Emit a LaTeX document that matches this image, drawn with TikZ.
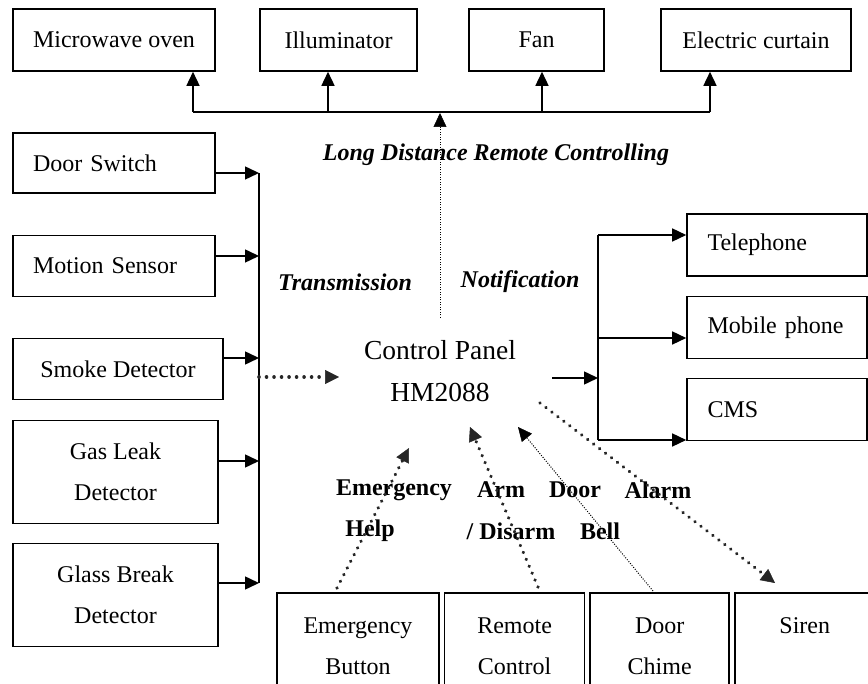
\documentclass[tikz,border=0pt]{standalone}
\usepackage{fontspec}
\setmainfont{Liberation Serif}
\usetikzlibrary{positioning, arrows.meta}
\tikzstyle{unit} = [rectangle, 
draw=black, 
line width=1.6pt, 
font=\fontsize{24}{41}\selectfont, 
align=center]
\tikzstyle{device} = [unit, minimum height=62pt]
\tikzstyle{sensor} = [unit, minimum width=202pt]
\tikzstyle{leftbox} = [text width=162pt, inner xsep=20pt, align=left]
\tikzstyle{output} = [unit, minimum height=62pt, text width=139pt, inner xsep=20.5pt, align=left]
\tikzstyle{trigger} = [unit, inner xsep=4pt, inner ysep=25pt, text height=16pt, text depth=52pt]
\tikzstyle{tag} = [font=\fontsize{24}{24}\selectfont\bfseries\itshape]
\tikzstyle{note} = [font=\fontsize{24}{24}\selectfont\bfseries]
\tikzstyle{arrow} = [line width=1.5pt, -{Triangle[length=14pt,width=13pt]}]
\tikzstyle{dotarrow} = [draw=black!85, line width=3.6pt, line cap=round, dash pattern=on 0.01pt off 7.5pt, 
-{Triangle[length=14pt,width=14pt,line width=0.5pt]}]
\tikzstyle{thinarrow} = [line width=1pt, dash pattern=on 1pt off 1.5pt, 
-{Triangle[length=14pt,width=13pt,line width=0.5pt]}]
\begin{document}
\begin{tikzpicture}[x=1pt, y=-1pt]
        \useasboundingbox (0,0) rectangle (868,684);
        \clip (0,0) rectangle (868,684);
        % appliances
        \node (micro) [device, minimum width=202pt] at (114,40) {Microwave oven};
        \node (illum) [device, minimum width=157pt] at (338.5,40) {Illuminator};
        \node (fan) [device, minimum width=135pt] at (536.5,40) {Fan};
        \node (curtain) [device, minimum width=190pt] at (756,40) {Electric curtain};
        % sensors
        \node (door) [sensor, leftbox, minimum height=60pt] at (114,163) {Door Switch};
        \node (motion) [sensor, leftbox, minimum height=61pt, below of=door, node distance=103pt] {Motion Sensor};
        \node (smoke) [sensor, minimum width=210pt, minimum height=61pt, below of=motion, node distance=103pt, xshift=4pt] {Smoke Detector};
        \node (gas) [sensor, minimum width=205pt, minimum height=103pt, below of=smoke, node distance=103pt, xshift=-2.5pt] {Gas Leak\\Detector};
        \node (glass) [sensor, minimum width=205pt, minimum height=103pt, below of=gas, node distance=123pt] {Glass Break\\Detector};
        % notification targets
        \node (tel) [output] at (777,245) {Telephone};
        \node (mob) [output, below of=tel, node distance=82.5pt] {Mobile phone};
        \node (cms) [output, below of=mob, node distance=82pt] {CMS};
        % panel
        \node (cp) [font=\fontsize{27.5}{42}\selectfont, align=center] at (440,371) {Control Panel\\HM2088};
        % remote triggers and siren
        \node (emb) [trigger, anchor=north, text width=154pt] at (358,592) {Emergency\\Button};
        \node (rc) [trigger, text width=132pt, right=4pt of emb] {Remote\\Control};
        \node (dc) [trigger, text width=131pt, right=4pt of rc] {Door\\Chime};
        \node (siren) [trigger, text width=132pt, right=4pt of dc] {Siren};
        % labels
        \node (ldrc) [tag] at (496,155) {Long Distance Remote Controlling};
        \node (trans) [tag] at (345,282) {Transmission};
        \node (noti) [tag] at (520,282) {Notification};
        \node (emg) [note] at (394,490) {Emergency};
        \node (help) [note] at (370,531) {Help};
        \node (arm) [note] at (501,490) {Arm};
        \node (disarm) [note] at (511,531) {/ Disarm};
        \node (dbell) [note] at (575,490) {Door};
        \node (bell) [note] at (600,531) {Bell};
        \node (alarm) [note] at (658,490) {Alarm};
        % bus points
        \coordinate (tM) at (193,112);
        \coordinate (tI) at (328,112);
        \coordinate (tF) at (542,112);
        \coordinate (tE) at (710,112);
        \coordinate (tC) at (440,113);
        \coordinate (cpTop) at (440,318);
        \coordinate (lD) at (259,173);
        \coordinate (lM) at (259,256);
        \coordinate (lS) at (259,358);
        \coordinate (lG) at (259,461);
        \coordinate (lB) at (259,583);
        \coordinate (lCp) at (259,377);
        \coordinate (cpL) at (339,377);
        \coordinate (cpR) at (552,378);
        \coordinate (rIn) at (598,378);
        \coordinate (rT) at (598,235);
        \coordinate (rM) at (598,338);
        \coordinate (rC) at (598,440);
        \coordinate (emS) at (337,588);
        \coordinate (emT) at (409,448);
        \coordinate (rcS) at (538,587);
        \coordinate (rcT) at (470,427);
        \coordinate (dcS) at (653,591);
        \coordinate (dcT) at (518,427);
        \coordinate (alS) at (540,403);
        \coordinate (alT) at (775,583);
        % connectors
        \draw [line width=1.5pt] (tM) -- (tE);
        \foreach \c/\n in {tM/micro, tI/illum, tF/fan, tE/curtain}
            \draw [arrow] (\c) -- (\c |- \n.south);
        \draw [thinarrow] (cpTop) -- (tC);
        \draw [line width=1.5pt] (lD) -- (lB);
        \foreach \c/\n in {lD/door, lM/motion, lS/smoke, lG/gas, lB/glass}
            \draw [arrow] (\n.east |- \c) -- (\c);
        \draw [dotarrow] (lCp) -- (cpL);
        \draw [arrow] (cpR) -- (rIn);
        \draw [line width=1.5pt] (rT) -- (rC);
        \foreach \c/\n in {rT/tel, rM/mob, rC/cms}
            \draw [arrow] (\c) -- (\n.west |- \c);
        \draw [dotarrow] (emS) -- (emT);
        \draw [dotarrow] (rcS) -- (rcT);
        \draw [thinarrow] (dcS) -- (dcT);
        \draw [dotarrow] (alS) -- (alT);
    \end{tikzpicture}
\end{document}
